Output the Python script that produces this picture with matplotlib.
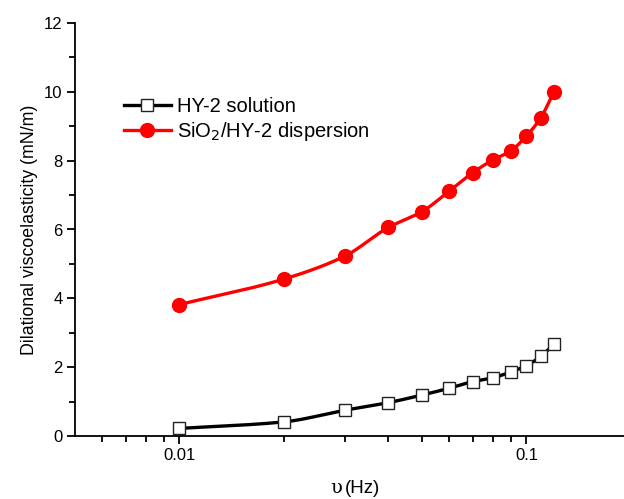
import numpy as np
import matplotlib.pyplot as plt
from matplotlib.ticker import FixedLocator, NullFormatter

plt.rcParams['font.family'] = ['Liberation Sans', 'DejaVu Sans']

# frequency (Hz)
freq = [0.01, 0.02, 0.03, 0.04, 0.05, 0.06, 0.07, 0.08, 0.09, 0.10, 0.11, 0.12]
# dilational viscoelasticity (mN/m)
hy2 = [0.22, 0.41, 0.75, 0.97, 1.19, 1.39, 1.58, 1.69, 1.86, 2.04, 2.32, 2.66]
sio2 = [3.82, 4.56, 5.23, 6.06, 6.52, 7.12, 7.65, 8.02, 8.28, 8.72, 9.25, 10.0]

labels = ["HY-2 solution", "SiO$_2$/HY-2 dispersion"]
xticks = [0.01, 0.1]
xticklabels = ["0.01", "0.1"]


def smooth(x, y, n=30):
    # monotone cubic (Fritsch-Carlson) in log-x, only for drawing the line
    lx = np.log10(x)
    y = np.asarray(y, float)
    h = np.diff(lx)
    d = np.diff(y) / h
    m = np.empty_like(y)
    m[0], m[-1] = d[0], d[-1]
    for i in range(1, len(y) - 1):
        if d[i - 1] * d[i] <= 0:
            m[i] = 0
        else:
            w1 = 2 * h[i] + h[i - 1]
            w2 = h[i] + 2 * h[i - 1]
            m[i] = (w1 + w2) / (w1 / d[i - 1] + w2 / d[i])
    xs, ys = [], []
    for i in range(len(h)):
        t = np.linspace(0, 1, n, endpoint=False)
        h00 = 2 * t**3 - 3 * t**2 + 1
        h10 = t**3 - 2 * t**2 + t
        h01 = -2 * t**3 + 3 * t**2
        h11 = t**3 - t**2
        xs.append(lx[i] + t * h[i])
        ys.append(h00 * y[i] + h10 * h[i] * m[i] + h01 * y[i + 1] + h11 * h[i] * m[i + 1])
    xs.append([lx[-1]])
    ys.append([y[-1]])
    return 10 ** np.concatenate(xs), np.concatenate(ys)


fig = plt.figure(figsize=(6.24, 4.99), dpi=100)
ax = fig.add_axes([75/624, 63/499, 1 - 75/624, 413/499])

sx, sy = smooth(freq, hy2)
ax.plot(sx, sy, color='black', lw=2.4)
ax.plot(freq, hy2, ls='none', marker='s', ms=8.5,
        mfc='white', mec='#222222', mew=1.0)
sx, sy = smooth(freq, sio2)
ax.plot(sx, sy, color='red', lw=2.4)
ax.plot(freq, sio2, ls='none', marker='o', ms=10, mfc='red', mec='red')

# legend handles
ax.plot([], [], color='black', lw=2.4, marker='s', ms=8.5,
        mfc='white', mec='#222222', mew=1.0, label=labels[0])
ax.plot([], [], color='red', lw=2.4, marker='o', ms=10,
        mfc='red', mec='red', label=labels[1])

ax.set_xscale('log')
ax.set_xlim(0.005, 0.191)
ax.set_ylim(0, 12)

ax.xaxis.set_major_locator(FixedLocator(xticks))
ax.set_xticklabels(xticklabels)
minors = [i * 0.001 for i in range(6, 10)] + [i * 0.01 for i in range(2, 10)]
ax.xaxis.set_minor_locator(FixedLocator(minors))
ax.xaxis.set_minor_formatter(NullFormatter())
ax.set_yticks(range(0, 13, 2))
ax.set_yticks(range(1, 12, 2), minor=True)

for s in ['top', 'right']:
    ax.spines[s].set_visible(False)
for s in ['left', 'bottom']:
    ax.spines[s].set_linewidth(1.3)
ax.tick_params(which='major', direction='out', length=6, width=1.3,
               labelsize=12, pad=3)
ax.tick_params(which='minor', direction='out', length=4, width=1.3)

ax.set_ylabel("Dilational viscoelasticity (mN/m)", fontsize=12.8, labelpad=4)
xc = 0.5 + 75/624/2 - 0.008
fig.text(xc, 0.005, "(Hz)", fontsize=13.5, ha='left', va='bottom')
fig.text(xc - 0.004, 0.005, "υ", fontsize=14, ha='right',
         va='bottom', family='DejaVu Serif')

ax.legend(loc='upper left', bbox_to_anchor=(0.075, 0.84), frameon=False,
          fontsize=14.5, handlelength=2.3, handletextpad=0.3,
          labelspacing=0.2, borderaxespad=0)

fig.savefig("out.png", dpi=100)
